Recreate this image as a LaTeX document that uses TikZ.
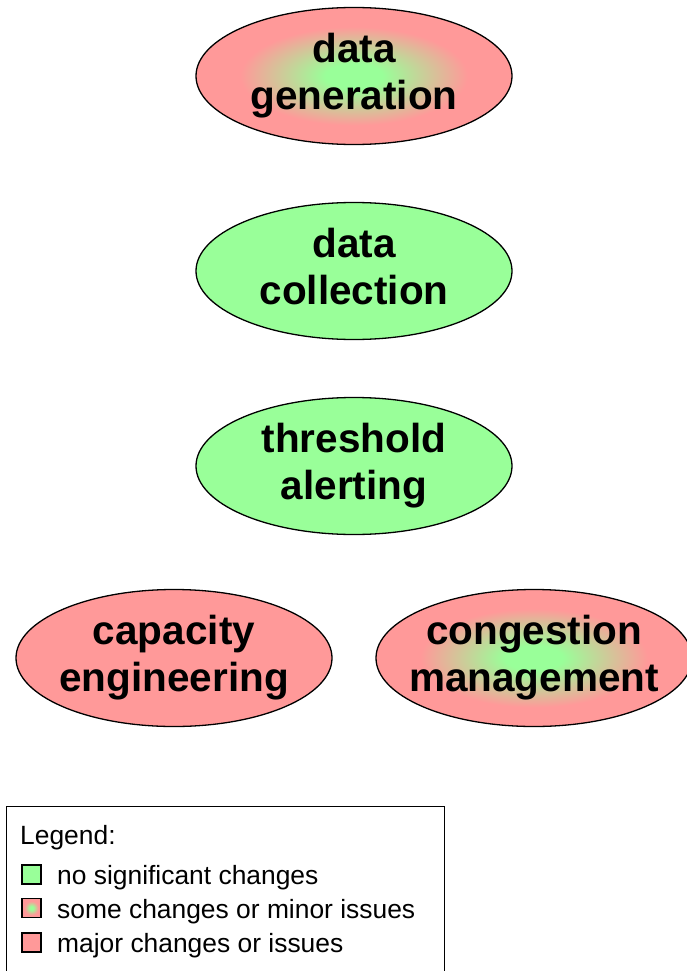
\documentclass[tikz,border=0pt]{standalone}
\usepackage{fontspec}
\setmainfont{Liberation Sans}
\usetikzlibrary{shapes.geometric}

\definecolor{okgreen}{RGB}{153,255,153}
\definecolor{badred}{RGB}{255,153,153}

% green core fading into red towards the rim (the rim sits at 25bp)
\pgfdeclareradialshading{mixed}{\pgfpoint{0bp}{0bp}}{%
  color(0bp)=(okgreen); color(4.5bp)=(okgreen);
  color(18bp)=(badred); color(50bp)=(badred)}

% two-line label of zero width, so the ellipse keeps its fixed size
\newcommand\stagelabel[2]{\makebox[0pt]{\parbox[c]{9cm}{\centering
  \rule{0pt}{33pt}#1\\#2\rule[-13.5pt]{0pt}{13.5pt}}}}

\tikzset{
  stage/.style={ellipse, draw=black, line width=1.3pt,
    minimum width=316pt, minimum height=137pt, inner sep=0pt,
    font=\fontsize{40.5}{47}\selectfont\bfseries},
  fine/.style={stage, fill=okgreen},
  major/.style={stage, fill=badred},
  minor/.style={stage, shade, shading=mixed},
  keybox/.style={rectangle, draw=black, line width=1.2pt,
    minimum size=19pt, inner sep=0pt},
  keytext/.style={anchor=base west, inner sep=0pt,
    font=\fontsize{26.4}{30}\selectfont},
}

\begin{document}
\begin{tikzpicture}
  \useasboundingbox (0pt,0pt) rectangle (687pt,-971pt);
  \clip (0pt,0pt) rectangle (687pt,-971pt);

  % process stages
  \node[minor] (gen)  at (354pt,-76pt)  {\stagelabel{data}{generation}};
  \node[fine]  (coll) at (354pt,-271pt) {\stagelabel{data}{collection}};
  \node[fine]  (thr)  at (354pt,-466pt) {\stagelabel{threshold}{alerting}};
  \node[major] (cap)  at (174pt,-658pt) {\stagelabel{capacity}{engineering}};
  \node[minor] (cong) at (534pt,-658pt) {\stagelabel{congestion}{management}};

  % legend
  \node[rectangle, draw=black, line width=1.2pt, inner sep=0pt,
        minimum width=438pt, minimum height=175pt, anchor=north west]
        (legend) at (6pt,-806pt) {};
  \node[keytext] (legtitle) at (20pt,-844pt) {Legend:};

  \node[keybox, fill=okgreen] (k1) at (31.5pt,-874.5pt) {};
  \node[keybox, shade, shading=mixed] (k2) at (31.5pt,-908pt) {};
  \node[keybox, fill=badred] (k3) at (31.5pt,-942.5pt) {};

  \node[keytext] (t1) at (57pt,-884pt) {no significant changes};
  \node[keytext] (t2) at (57pt,-918pt) {some changes or minor issues};
  \node[keytext] (t3) at (57pt,-952pt) {major changes or issues};
\end{tikzpicture}
\end{document}
